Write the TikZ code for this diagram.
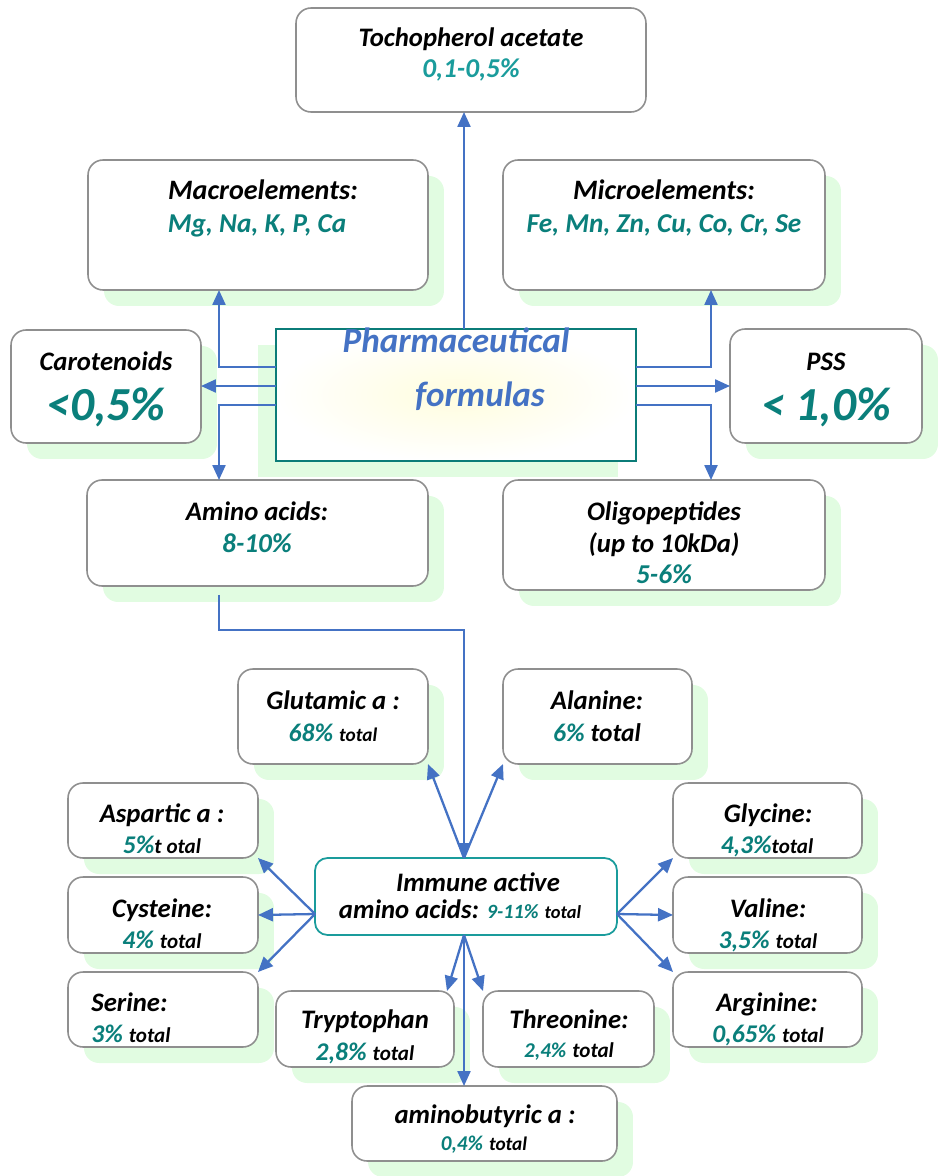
\documentclass[tikz,border=0pt]{standalone}
\usepackage{fontspec}
\setmainfont{Carlito}
\usetikzlibrary{arrows.meta,shadows,positioning}

\definecolor{arrowblue}{HTML}{4472C4}
\definecolor{boxgrey}{HTML}{8F8F8F}
\definecolor{shadegreen}{HTML}{E1FCE1}
\definecolor{tealtx}{HTML}{0A7F7B}
\definecolor{tealsoft}{HTML}{1A9C9C}
\definecolor{tealedge}{HTML}{0B7C78}

\newcommand{\pctval}[2][14.5]{{\color{tealtx}\fontsize{#1}{#1}\selectfont #2}}
\newcommand{\totword}[1][12]{{\fontsize{#1}{#1}\selectfont total}}

\tikzset{
  box/.style={draw=boxgrey, line width=0.9pt, rounded corners=0.3cm, fill=white, inner sep=0pt, outer sep=0pt},
  shbox/.style={box, general shadow={draw=none, fill=shadegreen, shadow xshift=0.32cm, shadow yshift=-0.32cm}},
  txt/.style={anchor=base, inner sep=0pt, font=\bfseries\itshape\fontsize{15.2}{17}\selectfont},
  valtxt/.style={txt, text=tealtx, font=\bfseries\itshape\fontsize{15.5}{17}\selectfont},
  bigtxt/.style={txt, font=\bfseries\itshape\fontsize{27}{29}\selectfont, text=tealtx},
  arr/.style={draw=arrowblue, line width=1.3pt, -{Triangle[length=0.3cm,width=0.26cm]}},
}

\begin{document}
\begin{tikzpicture}[x=0.02cm,y=-0.02cm]
\useasboundingbox (0,0) rectangle (938,1176);

% upper boxes
\node[box, minimum width=7cm, minimum height=2.08cm] (toco) at (471,60) {};
\node[shbox, minimum width=6.8cm, minimum height=2.6cm] (macro) at (258,225) {};
\node[shbox, minimum width=6.44cm, minimum height=2.6cm] (micro) at (664,225) {};
\node[shbox, minimum width=3.8cm, minimum height=2.26cm] (carot) at (106,386.5) {};
\node[shbox, minimum width=3.84cm, minimum height=2.28cm] (pss) at (826,386) {};
\node[shbox, minimum width=6.82cm, minimum height=2.12cm] (amino) at (257.5,533) {};
\node[shbox, minimum width=6.44cm, minimum height=2.2cm] (oligo) at (664,535) {};
\node[draw=tealedge, line width=1.5pt, inner sep=0pt, outer sep=0pt,
      minimum width=7.2cm, minimum height=2.64cm,
      general shadow={draw=none, fill=shadegreen, shadow xshift=-0.36cm, shadow yshift=-0.32cm},
      inner color={rgb,255:red,255;green,253;blue,222}, outer color=white] (pharma) at (456,395) {};

% lower boxes
\node[shbox, minimum width=3.8cm, minimum height=1.9cm] (gluta) at (333,716.5) {};
\node[shbox, minimum width=3.78cm, minimum height=1.9cm] (alan) at (597.5,716.5) {};
\node[shbox, minimum width=3.8cm, minimum height=1.5cm] (aspar) at (163,820.5) {};
\node[shbox, minimum width=3.8cm, minimum height=1.52cm] (cyst) at (163,915) {};
\node[shbox, minimum width=3.8cm, minimum height=1.5cm] (serin) at (163,1009.5) {};
\node[shbox, minimum width=3.78cm, minimum height=1.5cm] (glyc) at (767.5,820.5) {};
\node[shbox, minimum width=3.78cm, minimum height=1.52cm] (valin) at (767.5,915) {};
\node[shbox, minimum width=3.78cm, minimum height=1.5cm] (argin) at (767.5,1009.5) {};
\node[shbox, minimum width=3.56cm, minimum height=1.52cm] (trypto) at (365,1029) {};
\node[shbox, minimum width=3.42cm, minimum height=1.52cm] (threo) at (568.5,1029) {};
\node[shbox, minimum width=5.3cm, minimum height=1.5cm] (amb) at (484.5,1123.5) {};
\node[draw=tealsoft, line width=1pt, rounded corners=0.25cm, fill=white, inner sep=0pt, outer sep=0pt,
      minimum width=6.04cm, minimum height=1.54cm] (immune) at (466,896.5) {};

% texts
\node[txt] (tocoT) at (471,47) {Tochopherol acetate};
\node[valtxt, text=tealsoft] (tocoV) at (471,78) {0,1-0,5\%};
\node[txt, font=\bfseries\itshape\fontsize{16}{18}\selectfont] (macroT) at (263,199) {Macroelements:};
\node[valtxt] (macroV) at (257,232) {Mg, Na, K, P, Ca};
\node[txt, font=\bfseries\itshape\fontsize{16}{18}\selectfont] (microT) at (664,199) {Microelements:};
\node[valtxt] (microV) at (664,232) {Fe, Mn, Zn, Cu, Co, Cr, Se};
\node[txt] (carotT) at (106,370) {Carotenoids};
\node[bigtxt] (carotV) at (106,420) {<0,5\%};
\node[txt] (pssT) at (826,370) {PSS};
\node[bigtxt] (pssV) at (826,420) {< 1,0\%};
\node[txt, text=arrowblue, font=\bfseries\itshape\fontsize{20}{22}\selectfont] (pharmaT) at (456,352) {Pharmaceutical};
\node[txt, text=arrowblue, font=\bfseries\itshape\fontsize{20}{22}\selectfont] (pharmaB) at (480,406) {formulas};
\node[txt] (aminoT) at (257,520) {Amino acids:};
\node[valtxt] (aminoV) at (257,552) {8-10\%};
\node[txt] (oligoT) at (664,520) {Oligopeptides};
\node[txt] (oligoU) at (664,552) {(up to 10kDa)};
\node[valtxt] (oligoV) at (664,583) {5-6\%};

\node[txt] (glutaT) at (333,709) {Glutamic a :};
\node[txt] (glutaV) at (333,741) {\pctval{68\%} \totword[11]};
\node[txt] (alanT) at (597,709) {Alanine:};
\node[txt] (alanV) at (597,741) {\pctval{6\%} \totword[14.5]};
\node[txt] (asparT) at (162,822) {Aspartic a :};
\node[txt] (asparV) at (162,853) {\pctval{5\%}{\fontsize{12}{12}\selectfont t otal}};
\node[txt] (cystT) at (162,917) {Cysteine:};
\node[txt] (cystV) at (162,948) {\pctval{4\%} \totword};
\node[txt, anchor=base west] (serinT) at (91,1011) {Serine:};
\node[txt, anchor=base west] (serinV) at (91,1042) {\pctval{3\%} \totword};
\node[txt] (glycT) at (768,822) {Glycine:};
\node[txt] (glycV) at (767,853) {\pctval{4,3\%}\totword};
\node[txt] (valinT) at (768,917) {Valine:};
\node[txt] (valinV) at (768,948) {\pctval{3,5\%} \totword};
\node[txt] (arginT) at (767,1011) {Arginine:};
\node[txt] (arginV) at (768,1042) {\pctval{0,65\%} \totword};
\node[txt] (immT) at (478,891) {Immune active};
\node[txt] (immV) at (460,918) {amino acids: \pctval[11.5]{9-11\%} \totword[10.5]};
\node[txt] (tryptoT) at (365,1028) {Tryptophan};
\node[txt] (tryptoV) at (365,1060) {\pctval{2,8\%} \totword};
\node[txt] (threoT) at (569,1028) {Threonine:};
\node[txt] (threoV) at (569,1057) {\pctval[12]{2,4\%} \totword};
\node[txt] (ambT) at (485,1123) {aminobutyric a :};
\node[txt] (ambV) at (484,1150) {\pctval[12]{0,4\%} \totword[11]};

% connectors
\coordinate (cx) at (464,0);
\coordinate (lx) at (219,0);
\coordinate (rx) at (711,0);
\coordinate (r1) at (0,367);
\coordinate (r2) at (0,386);
\coordinate (r3) at (0,405);
\coordinate (bend) at (464,630);
\coordinate (lo) at (0,914);

\draw[arr] (pharma.north -| cx) -- (toco.south -| cx);
\draw[arr] (pharma.west |- r1) -| (macro.south -| lx);
\draw[arr] (pharma.west |- r2) -- (carot.east |- r2);
\draw[arr] (pharma.west |- r3) -| (amino.north -| lx);
\draw[arr] (pharma.east |- r1) -| (micro.south -| rx);
\draw[arr] (pharma.east |- r2) -- (pss.west |- r2);
\draw[arr] (pharma.east |- r3) -| (oligo.north -| rx);

\draw[arr, line width=1pt] (amino.south -| lx) ++(0,9) |- (bend) -- (immune.north -| cx);

\draw[arr] (immune.north -| cx) -- (gluta.south east);
\draw[arr] (immune.north -| cx) -- (alan.south west);
\foreach \b/\a in {aspar/south east, cyst/east, serin/north east}
  \draw[arr] (immune.west |- lo) -- (\b.\a);
\foreach \b/\a in {glyc/south west, valin/west, argin/north west}
  \draw[arr] (immune.east |- lo) -- (\b.\a);
\draw[arr] (immune.south -| cx) -- ([xshift=-0.14cm]trypto.north east);
\draw[arr] (immune.south -| cx) -- (threo.north west);
\draw[arr] (immune.south -| cx) -- (amb.north -| cx);
\end{tikzpicture}
\end{document}
